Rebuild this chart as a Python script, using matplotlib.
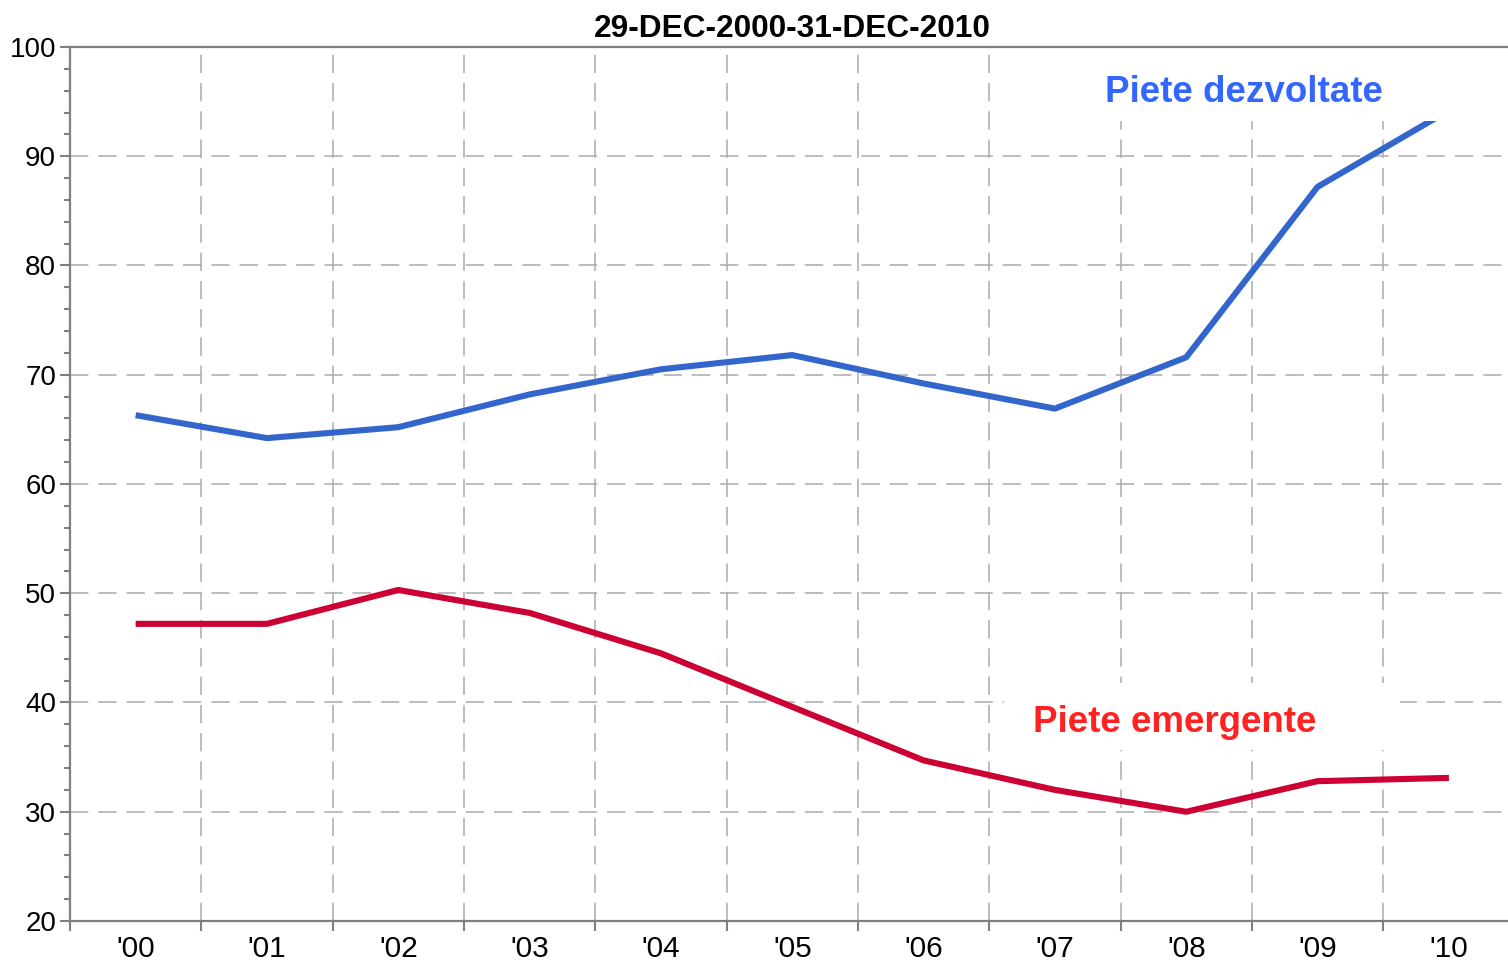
import matplotlib
matplotlib.use("Agg")
import matplotlib.pyplot as plt
from matplotlib.patches import Rectangle
import numpy as np

plt.rcParams['font.family'] = ['Liberation Sans', 'DejaVu Sans']

# ---- data ----
years = [2000.5, 2001.5, 2002.5, 2003.5, 2004.5, 2005.5, 2006.5, 2007.5, 2008.5, 2009.5, 2010.5]
tick_labels = ["'00", "'01", "'02", "'03", "'04", "'05", "'06", "'07", "'08", "'09", "'10"]
developed = [66.3, 64.2, 65.2, 68.2, 70.5, 71.8, 69.2, 66.9, 71.6, 87.2, 94.2]
emerging = [47.2, 47.2, 50.3, 48.2, 44.5, 39.6, 34.7, 32.0, 30.0, 32.8, 33.1]
title = "29-DEC-2000-31-DEC-2010"
label_dev = "Piete dezvoltate"
label_em = "Piete emergente"

W, H = 1508, 963
fig = plt.figure(figsize=(W / 100, H / 100), dpi=100)
ax = fig.add_axes([70 / W, (H - 921) / H, (W - 70) / W, (921 - 47) / H])

spine_c = '#808080'
grid_c = '#ababab'

ax.plot(years, developed, color='#3366CC', lw=4.4, zorder=3, solid_capstyle='butt')
ax.plot(years, emerging, color='#CC0033', lw=4.4, zorder=3, solid_capstyle='butt')

ax.set_xlim(2000, 2010.95)
ax.set_ylim(20, 100)

# x: boundaries as major ticks with grid, labels at mid-year minor ticks
ax.set_xticks(np.arange(2000, 2011, 1))
ax.set_xticklabels([])
ax.set_xticks(years, minor=True)
ax.set_xticklabels(tick_labels, minor=True)
ax.tick_params(axis='x', which='minor', length=0, labelsize=21.5, pad=10)
ax.tick_params(axis='x', which='major', length=7, width=1.5, color=spine_c, direction='out')

ax.set_yticks(np.arange(20, 101, 10))
ax.set_yticks(np.arange(20, 101, 2), minor=True)
ax.tick_params(axis='y', which='major', length=7, width=1.5, color=spine_c, labelsize=20, pad=3)
ax.tick_params(axis='y', which='minor', length=4, width=1.5, color=spine_c)

ax.grid(True, which='major', color=grid_c, lw=1.1, linestyle=(0, (12, 6.5)), zorder=1)
ax.set_axisbelow(True)

for s in ['left', 'bottom', 'top']:
    ax.spines[s].set_color(spine_c)
    ax.spines[s].set_linewidth(1.6)
ax.spines['right'].set_visible(False)

# label boxes (white background covering grid)
ax.add_patch(Rectangle((2007.74, 93.23), 3.3, 6.2, facecolor='white', edgecolor='none', zorder=4))
ax.add_patch(Rectangle((2007.11, 35.65), 3.02, 6.13, facecolor='white', edgecolor='none', zorder=4))

ax.text(2008.94, 94.97, label_dev, color='#3366FF', fontsize=26.5, fontweight='bold',
        ha='center', va='baseline', zorder=5)
ax.text(2008.41, 37.3, label_em, color='#FF2222', fontsize=26.5, fontweight='bold',
        ha='center', va='baseline', zorder=5)

fig.text(792 / W, (H - 37) / H, title, fontsize=22.8, fontweight='bold', ha='center', va='baseline')

fig.savefig('out.png', dpi=100)
